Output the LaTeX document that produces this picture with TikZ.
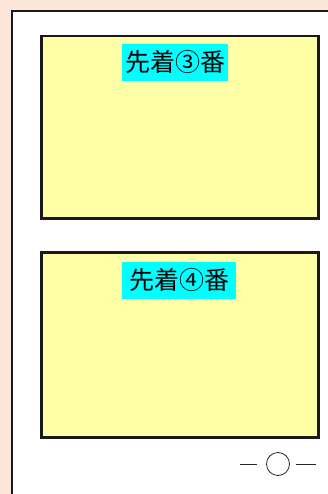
\documentclass[tikz,border=0pt]{standalone}
\usepackage{fontspec}
\newfontfamily\cjk{Noto Sans CJK JP}
\definecolor{peach}{HTML}{FCE8DA}
\definecolor{pale}{HTML}{FFFFA6}
\definecolor{aqua}{HTML}{00FFFF}
\tikzset{
  panel/.style={draw=black!90, line width=2.5pt, fill=pale},
  tag/.style={fill=aqua, inner xsep=3pt, inner ysep=0pt, text height=27pt, text depth=10pt, font=\cjk\fontsize{25pt}{25pt}\selectfont, anchor=north},
}
\begin{document}
\begin{tikzpicture}[x=1pt,y=-1pt]
\useasboundingbox (0,0) rectangle (328,494);
\fill[peach] (0,0) rectangle (328,494);
\fill[white] (12,11) rectangle (330,496);
\draw[black!90, line width=2pt] (12,496) -- (12,11) -- (330,11);
\node[panel, minimum width=277pt, minimum height=182pt, anchor=north west, inner sep=0pt] (p1) at (40,35) {};
\node[panel, minimum width=277pt, minimum height=185pt, anchor=north west, inner sep=0pt] (p2) at (40,251) {};
\node[tag] (t1) at (175,44) {先着③番};
\node[tag, inner xsep=7pt] (t2) at (179,262) {先着④番};
\node[draw=black!85, line width=0.8pt, circle, minimum size=23pt, inner sep=0pt] (pg) at (278,464) {};
\coordinate (d1a) at (240,464);
\coordinate (d2b) at (316,464);
\draw[black!85, line width=1pt] (d1a) -- ++(17,0);
\draw[black!85, line width=1pt] (d2b) -- ++(-20,0);
\end{tikzpicture}
\end{document}
